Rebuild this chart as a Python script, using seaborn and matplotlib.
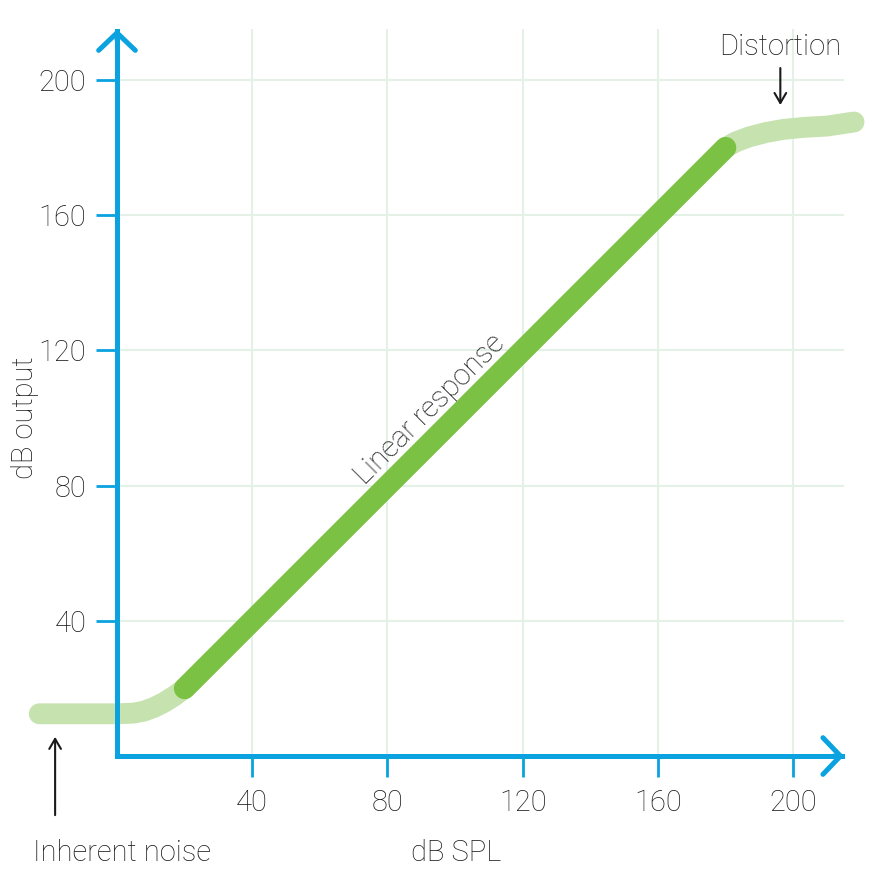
import numpy as np
import pandas as pd
import seaborn as sns
import matplotlib.pyplot as plt

# curve (dB SPL in, dB out)
noise_x = [-23, -10, 0, 5, 8, 11, 14, 17, 20]
noise_y = [12.5, 12.5, 12.5, 12.7, 13.3, 14.4, 15.9, 17.8, 20.0]
linear_x = [20, 180]
linear_y = [20, 180]
dist_x = [180, 183, 187, 192, 197, 203, 210, 218]
dist_y = [180, 181.7, 183.2, 184.5, 185.4, 186.0, 186.4, 187.6]

ticks = [40, 80, 120, 160, 200]

blue = '#0aa2df'
dark_green = '#7bc143'
light_green = '#c6e2ae'
grid_col = '#e3f1e6'

sns.set_theme(style='white')
plt.rcParams['font.family'] = ['Roboto', 'DejaVu Sans']
plt.rcParams['font.weight'] = 'light'

fig = plt.figure(figsize=(8.75, 8.75), dpi=100)
ax = fig.add_axes([0, 0, 1, 1])
ax.set_xlim(-34.6, 224.2)
ax.set_ylim(-35.2, 223.7)

ax.vlines(ticks, 0, 215, color=grid_col, lw=1.5, zorder=0)
ax.hlines(ticks, 0, 215, color=grid_col, lw=1.5, zorder=0)

low = pd.DataFrame({'x': noise_x, 'y': noise_y})
lin = pd.DataFrame({'x': linear_x, 'y': linear_y})
high = pd.DataFrame({'x': dist_x, 'y': dist_y})
sns.lineplot(data=low, x='x', y='y', sort=False, ax=ax, color=light_green,
             lw=15, solid_capstyle='round', solid_joinstyle='round', zorder=3)
sns.lineplot(data=high, x='x', y='y', sort=False, ax=ax, color=light_green,
             lw=15, solid_capstyle='round', solid_joinstyle='round', zorder=3)
sns.lineplot(data=lin, x='x', y='y', sort=False, ax=ax, color=dark_green,
             lw=15.5, solid_capstyle='round', zorder=4)

for side in ['top', 'right']:
    ax.spines[side].set_visible(False)
for side in ['left', 'bottom']:
    ax.spines[side].set_position(('data', 0))
    ax.spines[side].set_color(blue)
    ax.spines[side].set_linewidth(3.6)
    ax.spines[side].set_bounds(0, 214.5)
    ax.spines[side].set_zorder(5)

# open arrow heads at the axis ends
head = '->,head_length=1.05,head_width=1.1'
arrow = dict(arrowstyle=head, color=blue, lw=3.6, shrinkA=0, shrinkB=0)
ax.annotate('', xy=(0, 215), xytext=(0, 212), arrowprops=arrow, zorder=6)
ax.annotate('', xy=(215, 0), xytext=(212, 0), arrowprops=arrow, zorder=6)

ax.set_xticks(ticks)
ax.set_yticks(ticks)
ax.tick_params(axis='both', direction='out', length=15, width=2, color=blue,
               labelsize=21, labelcolor='#1a1a1a', pad=7)
ax.tick_params(left=True, bottom=True)
ax.tick_params(axis='x', pad=9)
ax.set_xlabel('')
ax.set_ylabel('')
ax.grid(False)

txt = dict(fontsize=21, color='#1a1a1a', fontweight='light')
ax.text(-24.9, -28.7, 'Inherent noise', ha='left', va='center', **txt)
ax.text(100.3, -28.7, 'dB SPL', ha='center', va='center', **txt)
ax.text(-27.2, 100, 'dB output', ha='center', va='center', rotation=90, **txt)
ax.text(196.2, 209.8, 'Distortion', ha='center', va='center', **txt)
ax.text(92.6, 102.4, 'Linear response', ha='center', va='center',
        rotation=45, rotation_mode='anchor', **txt)

ax.annotate('', xy=(-18.3, 6.5), xytext=(-18.3, -18.3),
            arrowprops=dict(arrowstyle='->,head_length=0.6,head_width=0.35',
                            color='#1a1a1a', lw=1.5))
ax.annotate('', xy=(196.2, 191.8), xytext=(196.2, 204.4),
            arrowprops=dict(arrowstyle='->,head_length=0.6,head_width=0.35',
                            color='#1a1a1a', lw=1.5))

fig.savefig('out.png', dpi=100)
